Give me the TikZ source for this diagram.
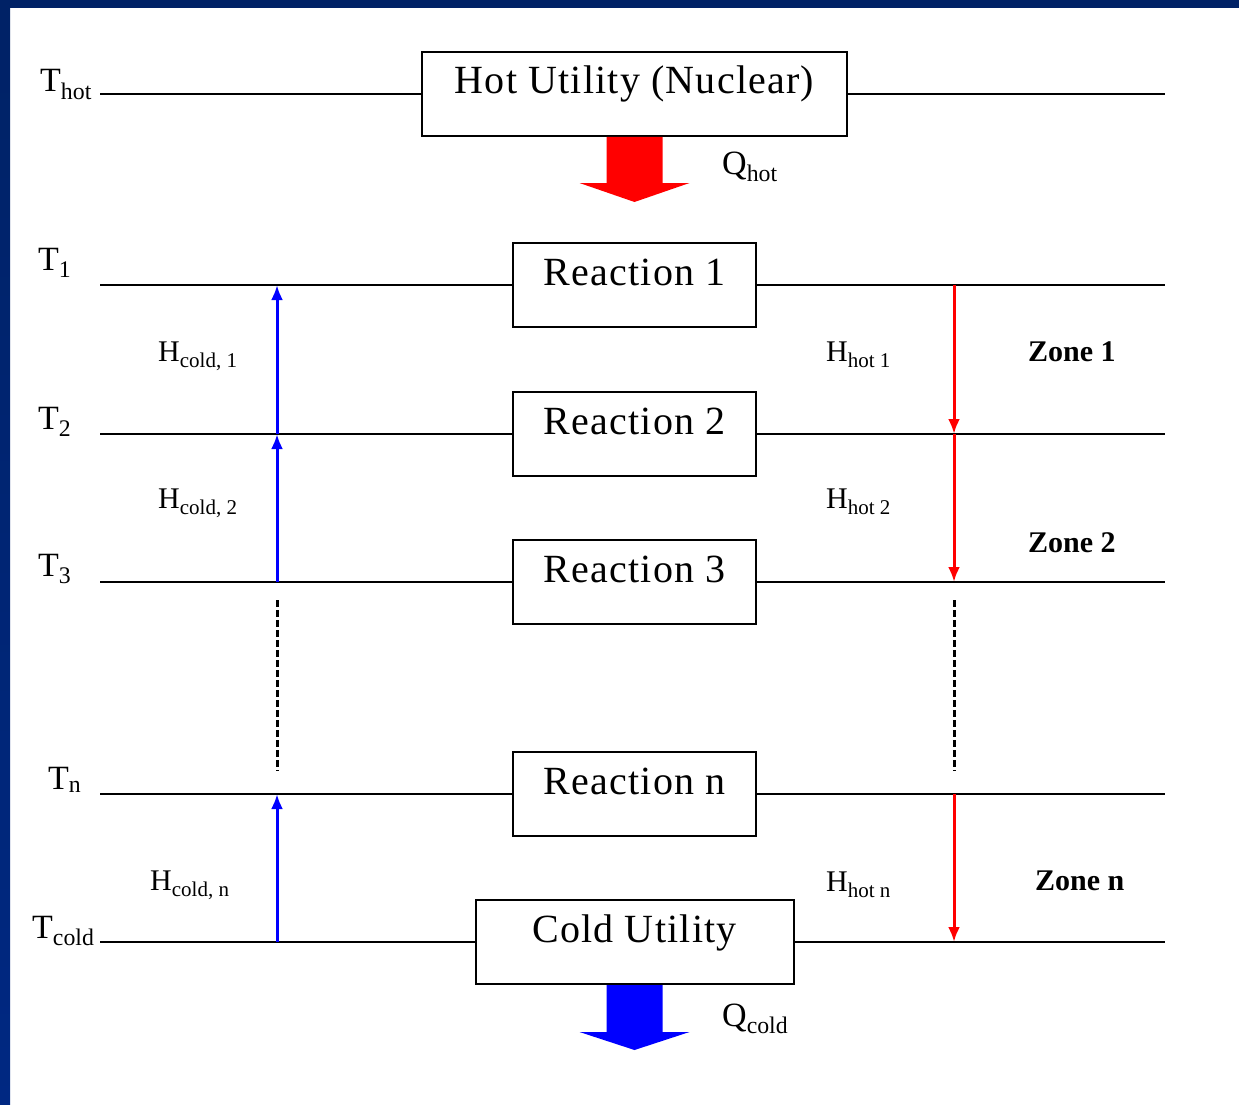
\documentclass[tikz,border=0pt]{standalone}
\usepackage{fontspec}
\setmainfont{Liberation Serif}
\newfontfamily\boxfont[LetterSpace=3]{Liberation Serif}
\usepackage{xcolor}
\usepackage{tikz}
\usetikzlibrary{arrows.meta,positioning}
\definecolor{slidenavy}{RGB}{0,34,102}
\definecolor{slideblue}{RGB}{0,40,130}
\tikzset{
  levelline/.style = {black, line width=2pt},
  unitbox/.style   = {draw, line width=2pt, inner sep=0pt, minimum height=84pt,
                      text height=24pt, text depth=24pt, font=\boxfont\fontsize{40}{48}\selectfont},
  coldedge/.style  = {blue, line width=3pt, ->, >={Latex[length=15pt,width=12pt]}},
  hotedge/.style   = {red, line width=3pt, ->, >={Latex[length=15pt,width=12pt]}},
  gapedge/.style   = {black, line width=3pt, dash pattern=on 7pt off 3pt},
  templabel/.style = {anchor=base west, inner sep=0pt, font=\fontsize{34}{40}\selectfont},
  heatlabel/.style = {anchor=base west, inner sep=0pt, font=\fontsize{30}{36}\selectfont},
  zonelabel/.style = {anchor=base west, inner sep=0pt, font=\bfseries\fontsize{30}{36}\selectfont},
}

\begin{document}
\begin{tikzpicture}[x=1pt,y=-1pt]
  % slide frame
  \useasboundingbox (0,0) rectangle (1239,1105);
  \fill[white] (0,0) rectangle (1239,1105);
  \shade[top color=slidenavy, bottom color=slideblue] (0,0) rectangle (10,1105);
  \fill[slidenavy] (0,0) rectangle (1239,8);

  \coordinate (lft) at (100,0);
  \coordinate (rgt) at (1165,0);
  \coordinate (up) at (277,0);
  \coordinate (down) at (954,0);
  \coordinate (gaptop) at (0,600);
  \coordinate (gapbot) at (0,771);

  % utilities and reactions
  \node[unitbox, minimum width=425pt] (hot) at (634.5,94) {Hot Utility (Nuclear)};
  \node[unitbox, minimum width=243pt] (r1) at (634.5,285) {Reaction 1};
  \node[unitbox, minimum width=243pt, below=63pt of r1] (r2) {Reaction 2};
  \node[unitbox, minimum width=243pt, below=62pt of r2] (r3) {Reaction 3};
  \node[unitbox, minimum width=243pt, below=126pt of r3] (rn) {Reaction n};
  \node[unitbox, minimum width=318pt, below=62pt of rn] (cold) {Cold Utility};

  % temperature levels
  \draw[levelline] (lft |- hot) -- (hot.west);
  \draw[levelline] (hot.east) -- (rgt |- hot);
  \draw[levelline] (lft |- r1) -- (r1.west);
  \draw[levelline] (r1.east) -- (rgt |- r1);
  \draw[levelline] (lft |- r2) -- (r2.west);
  \draw[levelline] (r2.east) -- (rgt |- r2);
  \draw[levelline] (lft |- r3) -- (r3.west);
  \draw[levelline] (r3.east) -- (rgt |- r3);
  \draw[levelline] (lft |- rn) -- (rn.west);
  \draw[levelline] (rn.east) -- (rgt |- rn);
  \draw[levelline] (lft |- cold) -- (cold.west);
  \draw[levelline] (cold.east) -- (rgt |- cold);

  % heat flows
  \draw[coldedge] (up |- r3) -- (up |- r2);
  \draw[coldedge] (up |- r2) -- (up |- r1);
  \draw[coldedge] (up |- cold) -- (up |- rn);
  \draw[gapedge] (up |- gaptop) -- (up |- gapbot);
  \draw[hotedge] (down |- r1) -- (down |- r2);
  \draw[hotedge] (down |- r2) -- (down |- r3);
  \draw[hotedge] (down |- rn) -- (down |- cold);
  \draw[gapedge] (down |- gaptop) -- (down |- gapbot);

  \fill[red] (hot.south) ++(-28,0) -- ++(0,46) -- ++(-27,0) -- ++(55,19)
    -- ++(55,-19) -- ++(-27,0) -- ++(0,-46) -- cycle;
  \fill[blue] (cold.south) ++(-28,0) -- ++(0,47) -- ++(-27,0) -- ++(55,18)
    -- ++(55,-18) -- ++(-27,0) -- ++(0,-47) -- cycle;

  % labels
  \node[templabel] (thot) at (40,92) {T\textsubscript{hot}};
  \node[templabel] (t1) at (38,270) {T\textsubscript{1}};
  \node[templabel] (t2) at (38,429) {T\textsubscript{2}};
  \node[templabel] (t3) at (38,576) {T\textsubscript{3}};
  \node[templabel] (tn) at (48,789) {T\textsubscript{n}};
  \node[templabel] (tcold) at (32,938) {T\textsubscript{cold}};

  \node[templabel] (qhot) at (722,174) {Q\textsubscript{hot}};
  \node[templabel] (qcold) at (722,1026) {Q\textsubscript{cold}};

  \node[heatlabel] (hc1) at (158,361) {H\textsubscript{cold, 1}};
  \node[heatlabel] (hc2) at (158,508) {H\textsubscript{cold, 2}};
  \node[heatlabel] (hcn) at (150,890) {H\textsubscript{cold, n}};
  \node[heatlabel] (hh1) at (826,361) {H\textsubscript{hot 1}};
  \node[heatlabel] (hh2) at (826,508) {H\textsubscript{hot 2}};
  \node[heatlabel] (hhn) at (826,891) {H\textsubscript{hot n}};

  \node[zonelabel] (z1) at (1028,361) {Zone 1};
  \node[zonelabel] (z2) at (1028,552) {Zone 2};
  \node[zonelabel] (zn) at (1035,890) {Zone n};
\end{tikzpicture}
\end{document}
